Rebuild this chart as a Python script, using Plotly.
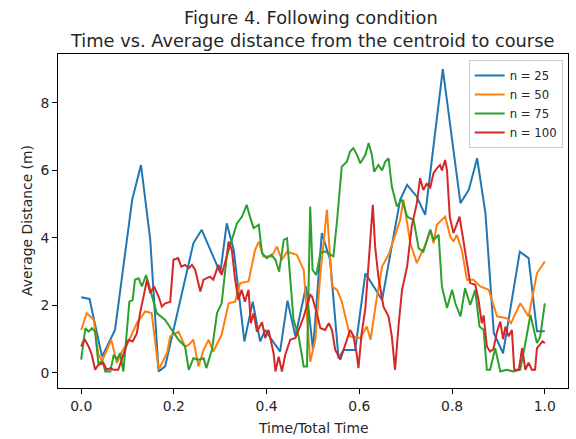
import plotly.graph_objects as go

# ---------------- data ----------------
x25 = [0, 0.018, 0.045, 0.073, 0.11, 0.129, 0.149, 0.167, 0.181, 0.242, 0.26, 0.30, 0.314, 0.329,
       0.352, 0.37, 0.386, 0.397, 0.408, 0.429, 0.445, 0.462, 0.485, 0.50, 0.519, 0.537, 0.555,
       0.566, 0.591, 0.613, 0.649, 0.688, 0.703, 0.724, 0.742, 0.78, 0.818, 0.836, 0.854, 0.872,
       0.89, 0.91, 0.946, 0.965, 0.983, 1.0]
y25 = [2.24, 2.19, 0.48, 1.27, 5.13, 6.16, 3.94, 0.04, 0.19, 3.84, 4.24, 2.96, 4.43, 3.64,
       0.93, 2.11, 0.93, 1.27, 1.04, 0.63, 2.14, 1.08, 2.56, 0.68, 4.14, 3.35, 0.43,
       0.68, 0.68, 2.95, 2.16, 5.13, 5.57, 5.22, 4.68, 9.0, 5.03, 5.42, 6.36, 4.73,
       1.18, 0.58, 3.59, 3.40, 1.23, 1.23]

x50 = [0, 0.012, 0.027, 0.037, 0.045, 0.065, 0.077, 0.088, 0.102, 0.12, 0.138, 0.152, 0.167,
       0.185, 0.192, 0.21, 0.224, 0.232, 0.242, 0.253, 0.264, 0.275, 0.285, 0.303, 0.318, 0.332,
       0.343, 0.361, 0.375, 0.383, 0.393, 0.411, 0.422, 0.433, 0.444, 0.465, 0.48, 0.494, 0.505,
       0.516, 0.53, 0.541, 0.552, 0.562, 0.58, 0.602, 0.616, 0.624, 0.638, 0.649, 0.663, 0.674,
       0.688, 0.695, 0.71, 0.724, 0.742, 0.753, 0.76, 0.767, 0.785, 0.796, 0.803, 0.81, 0.821,
       0.832, 0.846, 0.861, 0.879, 0.897, 0.918, 0.927, 0.947, 0.965, 0.983, 1.0]
y50 = [1.27, 1.77, 1.57, 0.55, 0.35, 0.98, 0.29, 0.63, 0.93, 1.47, 1.82, 1.77, 0.09,
       0.58, 1.08, 1.22, 0.78, 0.83, 0.98, 0.19, 0.68, 0.98, 0.63, 1.13, 2.06, 2.11,
       2.66, 2.71, 3.64, 3.89, 3.45, 3.45, 3.74, 3.35, 3.59, 3.50, 3.05, 0.33, 0.98,
       2.95, 4.83, 2.56, 2.46, 2.11, 1.08, 1.03, 1.37, 0.98, 2.26, 3.15, 3.50, 3.94,
       4.53, 5.13, 3.84, 3.25, 3.79, 4.24, 3.84, 4.39, 4.63, 4.04, 3.89, 4.09, 3.64,
       2.76, 2.76, 2.56, 2.46, 1.67, 1.62, 1.47, 2.06, 1.67, 2.95, 3.30]

x75 = [0, 0.009, 0.016, 0.023, 0.03, 0.037, 0.046, 0.052, 0.063, 0.07, 0.077, 0.084, 0.091,
       0.104, 0.111, 0.116, 0.124, 0.131, 0.14, 0.149, 0.163, 0.181, 0.196, 0.21, 0.224, 0.232,
       0.242, 0.253, 0.264, 0.27, 0.282, 0.293, 0.303, 0.314, 0.325, 0.336, 0.347, 0.357, 0.364,
       0.372, 0.383, 0.39, 0.40, 0.41, 0.419, 0.427, 0.437, 0.444, 0.458, 0.469, 0.48, 0.487,
       0.494, 0.499, 0.507, 0.516, 0.526, 0.537, 0.544, 0.552, 0.562, 0.573, 0.58, 0.587, 0.595,
       0.602, 0.613, 0.62, 0.627, 0.632, 0.641, 0.649, 0.656, 0.663, 0.67, 0.681, 0.692, 0.703,
       0.717, 0.728, 0.738, 0.753, 0.76, 0.771, 0.778, 0.789, 0.8, 0.807, 0.818, 0.828, 0.839,
       0.85, 0.859, 0.868, 0.875, 0.882, 0.893, 0.904, 0.918, 0.932, 0.947, 0.958, 0.969, 0.983,
       0.99, 1.0]
y75 = [0.39, 1.32, 1.22, 1.32, 1.22, 0.29, 0.34, 0.04, 0.04, 0.53, 0.40, 0.58, 0.04,
       2.11, 2.16, 2.76, 2.80, 2.56, 2.90, 2.46, 1.77, 1.57, 1.27, 0.98, 0.78, 0.09,
       0.43, 0.39, 0.43, 0.14, 0.68, 1.77, 2.06, 3.45, 3.94, 4.43, 4.63, 4.98, 4.63,
       4.29, 4.39, 3.55, 3.40, 3.50, 3.35, 3.00, 3.94, 3.99, 1.57, 1.08, 0.19, 0.19,
       4.93, 3.05, 2.90, 3.55, 3.60, 3.50, 3.45, 4.53, 6.11, 6.26, 6.56, 6.66, 6.46,
       6.21, 6.46, 6.81, 6.46, 5.96, 6.16, 6.00, 6.26, 6.36, 5.52, 4.93, 5.13, 4.63,
       4.53, 3.69, 3.59, 4.24, 3.94, 4.09, 2.56, 1.92, 2.46, 2.06, 1.67, 2.51, 2.01,
       2.46, 1.37, 1.27, 0.09, 0.09, 0.73, 0.04, 0.09, 0.04, 0.09, 0.88, 1.72, 0.88,
       1.07, 2.06]

x100 = [0, 0.007, 0.016, 0.023, 0.03, 0.037, 0.048, 0.055, 0.063, 0.07, 0.08, 0.088, 0.095,
        0.102, 0.111, 0.12, 0.127, 0.134, 0.142, 0.149, 0.157, 0.167, 0.174, 0.181, 0.192, 0.199,
        0.209, 0.216, 0.224, 0.232, 0.239, 0.246, 0.25, 0.257, 0.264, 0.278, 0.285, 0.296, 0.303,
        0.314, 0.318, 0.325, 0.332, 0.339, 0.346, 0.353, 0.361, 0.366, 0.372, 0.379, 0.39, 0.397,
        0.404, 0.415, 0.419, 0.426, 0.433, 0.44, 0.451, 0.462, 0.472, 0.48, 0.494, 0.498, 0.508,
        0.516, 0.526, 0.534, 0.541, 0.548, 0.559, 0.569, 0.58, 0.587, 0.594, 0.598, 0.605, 0.613,
        0.62, 0.629, 0.634, 0.641, 0.652, 0.663, 0.67, 0.677, 0.685, 0.692, 0.703, 0.713, 0.724,
        0.731, 0.738, 0.745, 0.753, 0.76, 0.767, 0.774, 0.778, 0.785, 0.789, 0.795, 0.803, 0.81,
        0.816, 0.823, 0.828, 0.834, 0.839, 0.85, 0.857, 0.864, 0.868, 0.875, 0.882, 0.889, 0.897,
        0.904, 0.91, 0.915, 0.922, 0.929, 0.934, 0.944, 0.951, 0.958, 0.965, 0.972, 0.979, 0.983,
        0.99, 0.995, 1.0]
y100 = [0.78, 1.00, 0.78, 0.53, 0.09, 0.24, 0.29, 0.09, 0.14, 0.09, 0.09, 0.43, 0.68,
        0.98, 0.93, 1.17, 1.77, 2.26, 2.76, 2.36, 2.56, 2.26, 1.96, 2.06, 2.10, 3.35,
        3.40, 3.15, 3.20, 3.10, 3.20, 3.05, 2.81, 2.41, 2.76, 2.85, 2.76, 3.20, 2.90,
        3.45, 3.89, 3.64, 2.76, 2.16, 2.46, 2.11, 2.46, 1.47, 1.77, 1.22, 1.50, 1.03,
        1.27, 0.58, 0.04, 0.48, 0.04, 0.53, 0.98, 1.03, 1.37, 1.67, 2.31, 2.26, 1.77,
        1.32, 1.27, 1.47, 1.27, 0.68, 0.39, 0.78, 1.27, 1.10, 0.58, 0.14, 1.17, 1.92,
        3.35, 4.98, 3.74, 2.85, 1.96, 1.67, 1.08, 0.09, 1.47, 2.46, 3.15, 4.34, 5.03,
        5.77, 5.42, 5.60, 5.50, 5.92, 6.06, 6.16, 6.00, 6.31, 6.00, 4.63, 4.14, 4.40,
        4.63, 4.04, 3.64, 3.05, 2.66, 2.61, 2.16, 1.47, 1.70, 0.78, 0.63, 0.70, 1.22,
        1.52, 1.00, 1.37, 1.08, 1.27, 0.09, 0.09, 0.73, 0.09, 0.30, 0.09, 0.09, 0.73,
        0.83, 0.93, 0.88]

series_names = ["n = 25", "n = 50", "n = 75", "n = 100"]
series_x = [x25, x50, x75, x100]
series_y = [y25, y50, y75, y100]
colors = ["#1f77b4", "#ff7f0e", "#2ca02c", "#d62728"]

x_ticks = [0.0, 0.2, 0.4, 0.6, 0.8, 1.0]
y_ticks = [0, 2, 4, 6, 8]

title_line1 = "Figure 4. Following condition"
title_line2 = "Time vs. Average distance from the centroid to course"
x_title = "Time/Total Time"
y_title = "Average Distance (m)"

# ---------------- figure ----------------
FONT = "DejaVu Sans"
TITLE_SIZE = 17.8
fig = go.Figure()
for name, xs, ys, c in zip(series_names, series_x, series_y, colors):
    fig.add_trace(go.Scatter(x=xs, y=ys, mode="lines", name=name,
                             line=dict(color=c, width=2)))

axis_common = dict(showline=True, linecolor="black", linewidth=1, mirror=True,
                   ticks="outside", ticklen=5, tickwidth=1, tickcolor="black",
                   showgrid=False, zeroline=False,
                   tickfont=dict(family=FONT, size=13.9, color="#262626"))

fig.update_layout(
    width=576, height=439,
    margin=dict(l=58, r=8, t=54, b=51, autoexpand=False),
    paper_bgcolor="white", plot_bgcolor="white",
    font=dict(family=FONT, color="#262626"),
    showlegend=True,
    legend=dict(x=0.9896, y=0.982, xanchor="right", yanchor="top",
                bgcolor="rgba(255,255,255,0.8)", bordercolor="#cccccc", borderwidth=1,
                font=dict(family=FONT, size=11.7, color="#262626"),
                tracegroupgap=0),
    xaxis=dict(range=[-0.05, 1.05], tickvals=x_ticks, tickformat=".1f", **axis_common),
    yaxis=dict(range=[-0.45, 9.45], tickvals=y_ticks, **axis_common),
    annotations=[
        dict(text=title_line1, xref="paper", yref="paper", x=0.5, y=1,
             xanchor="center", yanchor="middle", yshift=37, xshift=-2, showarrow=False,
             font=dict(family=FONT, size=TITLE_SIZE, color="#262626")),
        dict(text=title_line2, xref="paper", yref="paper", x=0.5, y=1,
             xanchor="center", yanchor="middle", yshift=14, xshift=-1, showarrow=False,
             font=dict(family=FONT, size=TITLE_SIZE, color="#262626")),
        dict(text=x_title, xref="paper", yref="paper", x=0.5, y=0,
             xanchor="center", yanchor="middle", yshift=-40, showarrow=False,
             font=dict(family=FONT, size=13.9, color="#262626")),
        dict(text=y_title, xref="paper", yref="paper", x=0, y=0.5, textangle=-90,
             xanchor="center", yanchor="middle", xshift=-31, showarrow=False,
             font=dict(family=FONT, size=13.9, color="#262626")),
    ],
)

fig.write_html("out.html", config={"displayModeBar": False},
               post_script="document.body.style.margin='0';document.body.style.overflow='hidden';")
